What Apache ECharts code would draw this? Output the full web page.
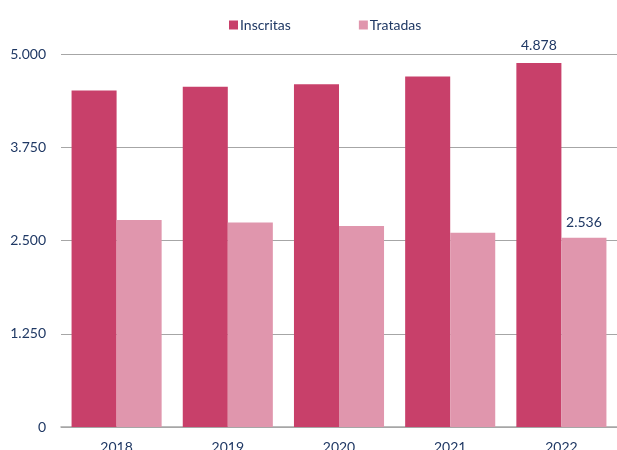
<!DOCTYPE html>
<html>
<head>
<meta charset="utf-8">
<script src="https://cdn.jsdelivr.net/npm/echarts@6/dist/echarts.min.js"></script>
<style>
  html, body { margin: 0; padding: 0; background: #fff; }
  #chart { width: 617px; height: 450px; }
</style>
</head>
<body>
<div id="chart"></div>
<script>
var years = ["2018", "2019", "2020", "2021", "2022"];
var inscritas = [4510, 4560, 4595, 4700, 4878];
var tratadas = [2775, 2740, 2695, 2605, 2536];
var yTicks = [0, 1250, 2500, 3750, 5000];

var textColor = "#1F3864";
var font = "Lato";

function fmt(v) {
  return String(v).replace(/\B(?=(\d{3})+(?!\d))/g, ".");
}

// only the last bar of each series gets a label
function withLastLabel(arr) {
  return arr.map(function (v, i) {
    if (i === arr.length - 1) {
      return { value: v, label: { show: true } };
    }
    return v;
  });
}

var chart = echarts.init(document.getElementById("chart"));
chart.setOption({
  animation: false,
  textStyle: { fontFamily: font },
  legend: {
    top: 13,
    left: 224,
    itemWidth: 9,
    itemHeight: 9,
    itemGap: 68,
    icon: "rect",
    textStyle: {
      color: textColor,
      fontSize: 14,
      fontFamily: font,
      padding: [0, 0, 0, -3]
    },
    data: ["Inscritas", "Tratadas"]
  },
  grid: {
    left: 61,
    right: 0,
    top: 54,
    bottom: 23,
    outerBoundsMode: "none"
  },
  xAxis: {
    type: "category",
    data: years,
    axisTick: { show: false },
    axisLine: { lineStyle: { color: "#A6A6A6", width: 1.5 } },
    axisLabel: { color: textColor, fontSize: 14, margin: 13 }
  },
  yAxis: {
    type: "value",
    min: yTicks[0],
    max: yTicks[yTicks.length - 1],
    interval: 1250,
    axisLine: { show: false },
    axisTick: { show: false },
    splitLine: { lineStyle: { color: "#A6A6A6", width: 1 } },
    axisLabel: {
      color: textColor,
      fontSize: 14,
      margin: 15,
      formatter: function (v) { return fmt(v); }
    }
  },
  series: [
    {
      name: "Inscritas",
      type: "bar",
      barGap: "0%",
      barCategoryGap: "19%",
      itemStyle: { color: "#C8406A" },
      label: {
        show: false,
        position: "top",
        color: textColor,
        fontSize: 14,
        distance: 11,
        formatter: function (p) { return fmt(p.value); }
      },
      data: withLastLabel(inscritas)
    },
    {
      name: "Tratadas",
      type: "bar",
      itemStyle: { color: "#E096AD" },
      label: {
        show: false,
        position: "top",
        color: textColor,
        fontSize: 14,
        distance: 8,
        formatter: function (p) { return fmt(p.value); }
      },
      data: withLastLabel(tratadas)
    }
  ]
});
</script>
</body>
</html>
